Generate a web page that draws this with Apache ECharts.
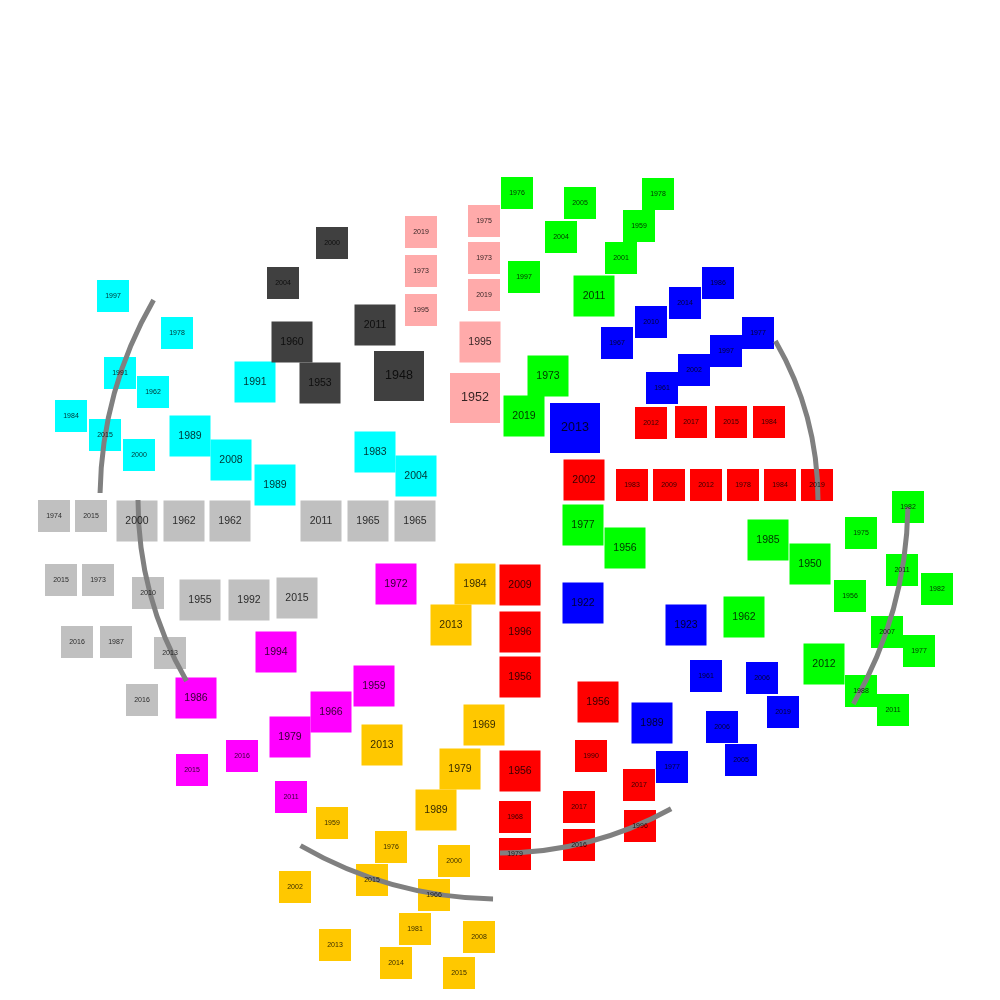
<!DOCTYPE html>
<html><head><meta charset="utf-8">
<script src="https://cdn.jsdelivr.net/npm/echarts/dist/echarts.min.js"></script>
<style>html,body{margin:0;padding:0;background:#fff}#c{width:1000px;height:1000px}</style>
</head><body><div id="c"></div>
<script>
// Each entry: [x, y, level, year]  (x,y relative to the circle centre; level = 1 small, 2 medium, 3 large)
const cyanItems = [
  [-387,204,1,'1997'],[-323,167,1,'1978'],[-380,127,1,'1991'],[-347,108,1,'1962'],
  [-429,84,1,'1984'],[-395,65,1,'2015'],[-361,45,1,'2000'],[-245,118,2,'1991'],
  [-310,64,2,'1989'],[-269,40,2,'2008'],[-225,15,2,'1989'],[-125,48,2,'1983'],[-84,24,2,'2004']
];
const darkItems = [
  [-168,257,1,'2000'],[-217,217,1,'2004'],[-208,158,2,'1960'],[-180,117,2,'1953'],
  [-125,175,2,'2011'],[-101,124,3,'1948']
];
const pinkItems = [
  [-79,268,1,'2019'],[-79,229,1,'1973'],[-79,190,1,'1995'],[-16,279,1,'1975'],
  [-16,242,1,'1973'],[-16,205,1,'2019'],[-20,158,2,'1995'],[-25,102,3,'1952']
];
const greenItems = [
  [17,307,1,'1976'],[80,297,1,'2005'],[61,263,1,'2004'],[24,223,1,'1997'],[94,204,2,'2011'],
  [158,306,1,'1978'],[139,274,1,'1959'],[121,242,1,'2001'],[48,124,2,'1973'],[24,84,2,'2019'],
  [83,-25,2,'1977'],[125,-48,2,'1956'],[244,-117,2,'1962'],[268,-40,2,'1985'],[310,-64,2,'1950'],
  [361,-33,1,'1975'],[408,-7,1,'1982'],[402,-70,1,'2011'],[437,-89,1,'1982'],[350,-96,1,'1956'],
  [387,-132,1,'2007'],[419,-151,1,'1977'],[324,-164,2,'2012'],[361,-191,1,'1988'],[393,-210,1,'2011']
];
const blueItems = [
  [218,217,1,'1986'],[185,197,1,'2014'],[151,178,1,'2010'],[117,157,1,'1967'],
  [258,167,1,'1977'],[226,149,1,'1997'],[194,130,1,'2002'],[162,112,1,'1961'],
  [75,72,3,'2013'],[83,-103,2,'1922'],[186,-125,2,'1923'],[206,-176,1,'1961'],
  [262,-178,1,'2006'],[283,-212,1,'2019'],[222,-227,1,'2006'],[241,-260,1,'2005'],
  [152,-223,2,'1989'],[172,-267,1,'1977']
];
const redItems = [
  [151,77,1,'2012'],[191,78,1,'2017'],[231,78,1,'2015'],[269,78,1,'1984'],
  [132,15,1,'1983'],[169,15,1,'2009'],[206,15,1,'2012'],[243,15,1,'1978'],[280,15,1,'1984'],[317,15,1,'2019'],
  [84,20,2,'2002'],[20,-85,2,'2009'],[20,-132,2,'1996'],[20,-177,2,'1956'],[20,-271,2,'1956'],
  [15,-317,1,'1968'],[15,-354,1,'1979'],[98,-202,2,'1956'],[91,-256,1,'1990'],
  [139,-285,1,'2017'],[79,-307,1,'2017'],[140,-326,1,'1996'],[79,-345,1,'2016']
];
const grayItems = [
  [-446,-16,1,'1974'],[-409,-16,1,'2015'],[-363,-21,2,'2000'],[-316,-21,2,'1962'],[-270,-21,2,'1962'],
  [-179,-21,2,'2011'],[-132,-21,2,'1965'],[-85,-21,2,'1965'],[-439,-80,1,'2015'],[-402,-80,1,'1973'],
  [-352,-93,1,'2010'],[-300,-100,2,'1955'],[-251,-100,2,'1992'],[-203,-98,2,'2015'],
  [-423,-142,1,'2016'],[-384,-142,1,'1987'],[-330,-153,1,'2013'],[-358,-200,1,'2016']
];
const magentaItems = [
  [-104,-84,2,'1972'],[-224,-152,2,'1994'],[-304,-198,2,'1986'],[-126,-186,2,'1959'],
  [-169,-212,2,'1966'],[-210,-237,2,'1979'],[-258,-256,1,'2016'],[-308,-270,1,'2015'],[-209,-297,1,'2011']
];
const yellowItems = [
  [-25,-84,2,'1984'],[-49,-125,2,'2013'],[-118,-245,2,'2013'],[-16,-225,2,'1969'],
  [-40,-269,2,'1979'],[-64,-310,2,'1989'],[-168,-323,1,'1959'],[-109,-347,1,'1976'],
  [-46,-361,1,'2000'],[-205,-387,1,'2002'],[-128,-380,1,'2015'],[-66,-395,1,'1966'],
  [-165,-445,1,'2013'],[-85,-429,1,'1981'],[-104,-463,1,'2014'],[-21,-437,1,'2008'],[-41,-473,1,'2015']
];
// arcs: [radius, startDeg, endDeg] around centre (0,0)
const arcs = [[400,181,210],[362,150,180],[318,330,360],[408,1,30],[399,91,120],[353,61,90]];

const groups = [
  {items: cyanItems, color: '#00FFFF'},
  {items: darkItems, color: '#404040'},
  {items: pinkItems, color: '#FFAAAA'},
  {items: greenItems, color: '#00FF00'},
  {items: blueItems, color: '#0000FF'},
  {items: redItems, color: '#FF0000'},
  {items: grayItems, color: '#C0C0C0'},
  {items: magentaItems, color: '#FF00FF'},
  {items: yellowItems, color: '#FFC800'}
];
const boxSize = {1: 32, 2: 41, 3: 50};
const fontSize = {1: 7, 2: 10.5, 3: 12.5};

const toData = items => items.map(d => ({value: [d[0], d[1], d[2]], name: d[3]}));

const series = groups.map(g => ({
  type: 'scatter', symbol: 'rect', z: 2,
  symbolSize: v => boxSize[v[2]],
  itemStyle: {color: g.color, opacity: 1},
  data: toData(g.items), silent: true
}));
series.push({
  type: 'custom', z: 3, silent: true,
  data: arcs,
  renderItem: (params, api) => {
    const c = api.coord([0, 0]);
    const r = api.size([api.value(0), 0])[0];
    return {
      type: 'arc',
      shape: {cx: c[0], cy: c[1], r: r,
        startAngle: api.value(1) * Math.PI / 180, endAngle: api.value(2) * Math.PI / 180, clockwise: true},
      style: {stroke: '#808080', lineWidth: 5, fill: null}
    };
  }
});
const allItems = groups.reduce((a, g) => a.concat(g.items), []);
series.push({
  type: 'scatter', symbol: 'rect', z: 4, silent: true,
  symbolSize: v => boxSize[v[2]],
  itemStyle: {color: 'rgba(0,0,0,0)'},
  label: {
    show: true, position: 'inside', formatter: '{b}', color: '#000',
    fontFamily: 'Liberation Sans, Arial, sans-serif',
    fontSize: p => 10
  },
  data: allItems.map(d => ({value: [d[0], d[1], d[2]], name: d[3],
    label: {fontSize: fontSize[d[2]]}}))
});

const chart = echarts.init(document.getElementById('c'));
chart.setOption({
  animation: false,
  backgroundColor: '#fff',
  grid: {left: 0, right: 0, top: 0, bottom: 0},
  xAxis: {type: 'value', min: -500, max: 500, show: false},
  yAxis: {type: 'value', min: -500, max: 500, show: false},
  series: series
});
</script></body></html>
